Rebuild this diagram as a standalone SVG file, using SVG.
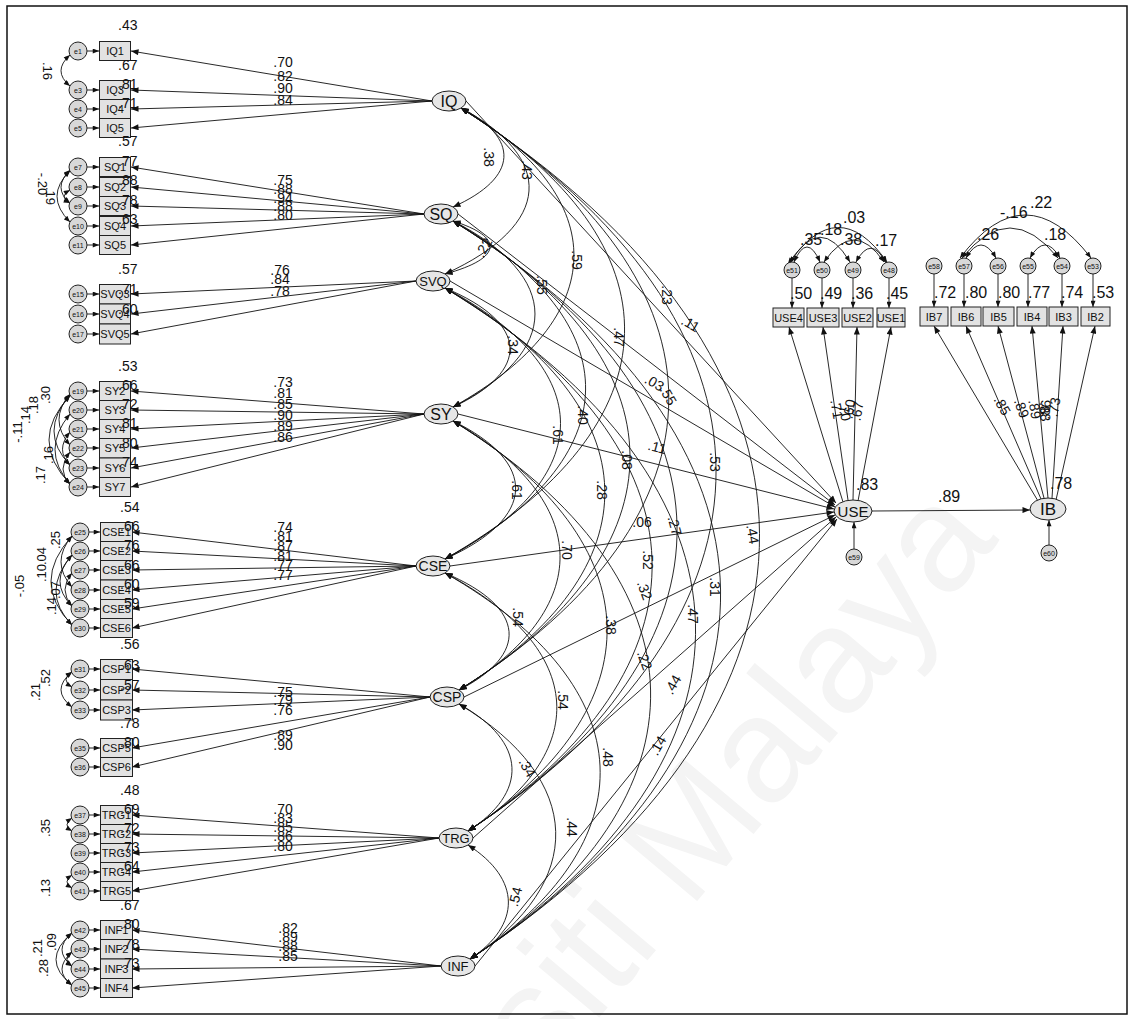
<svg xmlns="http://www.w3.org/2000/svg" width="1131" height="1019" viewBox="0 0 1131 1019">
<defs>
<marker id="ar" viewBox="0 0 10 8" refX="10" refY="4" markerWidth="9" markerHeight="6" orient="auto-start-reverse" markerUnits="userSpaceOnUse"><path d="M0,0L10,4L0,8z" fill="#111"/></marker>
<marker id="as" viewBox="0 0 10 8" refX="10" refY="4" markerWidth="7" markerHeight="5" orient="auto-start-reverse" markerUnits="userSpaceOnUse"><path d="M0,0L10,4L0,8z" fill="#111"/></marker>
</defs>
<style>
text{font-family:"Liberation Sans",Arial,sans-serif;fill:#111}
.b{fill:#e2e2e2;stroke:#222;stroke-width:1}
.c{fill:#d8d8d8;stroke:#222;stroke-width:1}
.l{fill:#e6e6e6;stroke:#222;stroke-width:1}
.bt{font-size:11px;text-anchor:middle}
.et{font-size:7px;text-anchor:middle}
.ft{font-size:15px;text-anchor:middle}
.v{font-size:14px}
.vm{font-size:14px;text-anchor:middle}
.vr{font-size:16px}
.ln{stroke:#111;stroke-width:0.9;fill:none}
.ar{marker-end:url(#ar)}
.as{marker-end:url(#as)}
.dd{marker-start:url(#ar);marker-end:url(#ar)}
.ds{marker-start:url(#as);marker-end:url(#as)}
</style>
<rect width="1131" height="1019" fill="#fff"/>
<text x="1000" y="540" transform="rotate(-50 1000 540)" style="font-size:150px;text-anchor:end;fill:#f4f4f4">Universiti Malaya</text>
<rect x="7" y="6" width="1120" height="1008" fill="none" stroke="#111" stroke-width="1.5"/>

<g id="connectors" class="ln">
<line x1="432" y1="101" x2="131" y2="51" class="ar"/><line x1="432" y1="101" x2="131" y2="90" class="ar"/><line x1="432" y1="101" x2="131" y2="109" class="ar"/><line x1="432" y1="101" x2="131" y2="128" class="ar"/>
<line x1="424" y1="214" x2="131" y2="167" class="ar"/><line x1="424" y1="214" x2="131" y2="187" class="ar"/><line x1="424" y1="214" x2="131" y2="206" class="ar"/><line x1="424" y1="214" x2="131" y2="226" class="ar"/><line x1="424" y1="214" x2="131" y2="245" class="ar"/>
<line x1="416" y1="281" x2="131" y2="294" class="ar"/><line x1="416" y1="281" x2="131" y2="314" class="ar"/><line x1="416" y1="281" x2="131" y2="334" class="ar"/>
<line x1="424" y1="414" x2="131" y2="391" class="ar"/><line x1="424" y1="414" x2="131" y2="410" class="ar"/><line x1="424" y1="414" x2="131" y2="429" class="ar"/><line x1="424" y1="414" x2="131" y2="448" class="ar"/><line x1="424" y1="414" x2="131" y2="468" class="ar"/><line x1="424" y1="414" x2="131" y2="487" class="ar"/>
<line x1="416" y1="566" x2="132" y2="532" class="ar"/><line x1="416" y1="566" x2="132" y2="551" class="ar"/><line x1="416" y1="566" x2="132" y2="570" class="ar"/><line x1="416" y1="566" x2="132" y2="590" class="ar"/><line x1="416" y1="566" x2="132" y2="609" class="ar"/><line x1="416" y1="566" x2="132" y2="628" class="ar"/>
<line x1="430" y1="697" x2="132" y2="669" class="ar"/><line x1="430" y1="697" x2="132" y2="690" class="ar"/><line x1="430" y1="697" x2="132" y2="710" class="ar"/><line x1="430" y1="697" x2="132" y2="748" class="ar"/><line x1="430" y1="697" x2="132" y2="767" class="ar"/>
<line x1="439" y1="838" x2="132" y2="815" class="ar"/><line x1="439" y1="838" x2="132" y2="834" class="ar"/><line x1="439" y1="838" x2="132" y2="853" class="ar"/><line x1="439" y1="838" x2="132" y2="872" class="ar"/><line x1="439" y1="838" x2="132" y2="891" class="ar"/>
<line x1="441" y1="966" x2="132" y2="930" class="ar"/><line x1="441" y1="966" x2="132" y2="949" class="ar"/><line x1="441" y1="966" x2="132" y2="969" class="ar"/><line x1="441" y1="966" x2="132" y2="988" class="ar"/>
<g class="as">
<line x1="87" y1="51" x2="99" y2="51"/><line x1="87" y1="90" x2="99" y2="90"/><line x1="87" y1="109" x2="99" y2="109"/><line x1="87" y1="128" x2="99" y2="128"/>
<line x1="87" y1="167" x2="99" y2="167"/><line x1="87" y1="187" x2="99" y2="187"/><line x1="87" y1="206" x2="99" y2="206"/><line x1="87" y1="226" x2="99" y2="226"/><line x1="87" y1="245" x2="99" y2="245"/>
<line x1="87" y1="294" x2="99" y2="294"/><line x1="87" y1="314" x2="99" y2="314"/><line x1="87" y1="334" x2="99" y2="334"/>
<line x1="87" y1="391" x2="99" y2="391"/><line x1="87" y1="410" x2="99" y2="410"/><line x1="87" y1="429" x2="99" y2="429"/><line x1="87" y1="448" x2="99" y2="448"/><line x1="87" y1="468" x2="99" y2="468"/><line x1="87" y1="487" x2="99" y2="487"/>
<line x1="89" y1="532" x2="100" y2="532"/><line x1="89" y1="551" x2="100" y2="551"/><line x1="89" y1="570" x2="100" y2="570"/><line x1="89" y1="590" x2="100" y2="590"/><line x1="89" y1="609" x2="100" y2="609"/><line x1="89" y1="628" x2="100" y2="628"/>
<line x1="89" y1="669" x2="100" y2="669"/><line x1="89" y1="690" x2="100" y2="690"/><line x1="89" y1="710" x2="100" y2="710"/><line x1="89" y1="748" x2="100" y2="748"/><line x1="89" y1="767" x2="100" y2="767"/>
<line x1="89" y1="815" x2="100" y2="815"/><line x1="89" y1="834" x2="100" y2="834"/><line x1="89" y1="853" x2="100" y2="853"/><line x1="89" y1="872" x2="100" y2="872"/><line x1="89" y1="891" x2="100" y2="891"/>
<line x1="89" y1="930" x2="100" y2="930"/><line x1="89" y1="949" x2="100" y2="949"/><line x1="89" y1="969" x2="100" y2="969"/><line x1="89" y1="988" x2="100" y2="988"/>
<line x1="792" y1="278" x2="792" y2="308"/><line x1="822" y1="278" x2="822" y2="308"/><line x1="853" y1="278" x2="853" y2="308"/><line x1="889" y1="278" x2="889" y2="308"/>
<line x1="934" y1="274" x2="934" y2="307"/><line x1="964" y1="274" x2="964" y2="307"/><line x1="998" y1="274" x2="998" y2="307"/><line x1="1028" y1="274" x2="1028" y2="307"/><line x1="1062" y1="274" x2="1062" y2="307"/><line x1="1093" y1="274" x2="1093" y2="307"/>
<line x1="854" y1="549" x2="854" y2="522"/><line x1="1049" y1="545" x2="1049" y2="520"/>
</g>
<g class="ds">
<path d="M70,55 Q52,71 70,86"/>
<path d="M70,171 Q44,196 70,222"/><path d="M70,170 Q52,188 70,203"/><path d="M70,190 Q58,197 70,203"/>
<path d="M70,394 Q48,420 70,445"/><path d="M70,395 Q38,432 70,465"/><path d="M70,414 Q40,450 70,484"/><path d="M70,396 Q28,440 70,484"/><path d="M70,432 Q55,450 70,465"/><path d="M70,452 Q56,470 70,484"/>
<path d="M72,536 Q50,562 72,587"/><path d="M72,536 Q30,582 72,625"/><path d="M72,555 Q48,582 72,606"/><path d="M72,555 Q40,592 72,625"/><path d="M72,573 Q58,590 72,606"/>
<path d="M72,672 Q50,690 72,707"/><path d="M72,672 Q60,680 72,687"/>
<path d="M72,818 Q62,825 72,831"/><path d="M72,875 Q62,882 72,888"/>
<path d="M72,933 Q52,950 72,966"/><path d="M72,933 Q40,960 72,985"/><path d="M72,952 Q52,970 72,985"/><path d="M72,952 Q62,960 72,966"/>
</g>
<g class="ds">
<path d="M794,262 Q807,232 820,262"/>
<path d="M790,263 Q820,212 850,262"/>
<path d="M788,264 Q838,192 887,262"/>
<path d="M824,262 Q854,218 884,262"/>
<path d="M856,262 Q871,234 886,263"/>
<path d="M966,258 Q981,232 996,258"/>
<path d="M1030,258 Q1045,232 1060,258"/>
<path d="M962,258 Q1010,198 1058,258"/>
<path d="M960,258 Q1025,172 1091,258"/>
</g>
<g class="dd">
<path d="M461,108 C519.5,137.7 519.5,177.3 453,207"/>
<path d="M461,108 C554.3,157.8 554.3,224.2 445,274"/>
<path d="M461,108 C612.9,197.7 612.9,317.3 453,407"/>
<path d="M461,108 C681.7,243.3 681.7,423.7 445,559"/>
<path d="M461,108 C738.4,282.6 738.4,515.4 459,690"/>
<path d="M461,108 C799.9,324.9 799.9,614.1 468,831"/>
<path d="M461,108 C857.5,363.3 857.5,703.7 470,959"/>
<path d="M453,221 C503.7,236.9 503.7,258.1 445,274"/>
<path d="M453,221 C562.3,276.8 562.3,351.2 453,407"/>
<path d="M453,221 C631.1,322.4 631.1,457.6 445,559"/>
<path d="M453,221 C688,361.7 688,549.3 459,690"/>
<path d="M453,221 C749.2,404 749.2,648 468,831"/>
<path d="M453,221 C806.9,442.4 806.9,737.6 470,959"/>
<path d="M445,288 C530.3,323.7 530.3,371.3 453,407"/>
<path d="M445,288 C599,369.3 599,477.7 445,559"/>
<path d="M445,288 C655.7,408.6 655.7,569.4 459,690"/>
<path d="M445,288 C717.2,450.9 717.2,668.1 468,831"/>
<path d="M445,288 C774.8,489.3 774.8,757.7 470,959"/>
<path d="M453,421 C537.8,462.4 537.8,517.6 445,559"/>
<path d="M453,421 C594.7,501.7 594.7,609.3 459,690"/>
<path d="M453,421 C655.9,544 655.9,708 468,831"/>
<path d="M453,421 C713.6,582.4 713.6,797.6 470,959"/>
<path d="M445,573 C528,608.1 528,654.9 459,690"/>
<path d="M445,573 C590,650.4 590,753.6 468,831"/>
<path d="M445,573 C647.5,688.8 647.5,843.2 470,959"/>
<path d="M459,704 C528.1,742.1 528.1,792.9 468,831"/>
<path d="M459,704 C586.1,780.5 586.1,882.5 470,959"/>
<path d="M468,845 C521.5,879.2 521.5,924.8 470,959"/>
</g>
<g class="ar">
<line x1="466" y1="101" x2="836" y2="503"/>
<line x1="458" y1="214" x2="835" y2="505"/>
<line x1="450" y1="281" x2="835" y2="507"/>
<line x1="458" y1="414" x2="834" y2="509"/>
<line x1="450" y1="566" x2="834" y2="512"/>
<line x1="464" y1="697" x2="835" y2="515"/>
<line x1="473" y1="838" x2="836" y2="517"/>
<line x1="475" y1="966" x2="837" y2="519"/>
<line x1="872" y1="511" x2="1030" y2="510"/>
<line x1="843" y1="502" x2="789" y2="327"/>
<line x1="848" y1="500" x2="823" y2="327"/>
<line x1="853" y1="500" x2="857" y2="327"/>
<line x1="858" y1="501" x2="891" y2="327"/>
<line x1="1038" y1="501" x2="934" y2="326"/>
<line x1="1041" y1="499" x2="966" y2="326"/>
<line x1="1044" y1="498" x2="998" y2="326"/>
<line x1="1048" y1="498" x2="1032" y2="326"/>
<line x1="1052" y1="498" x2="1063" y2="326"/>
<line x1="1056" y1="500" x2="1095" y2="326"/>
</g>
</g>

<g id="IQ"><ellipse class="l" cx="449" cy="101" rx="17" ry="10"/><text class="ft" x="449" y="107" style="font-size:16px">IQ</text></g>
<g id="SQ"><ellipse class="l" cx="441" cy="214" rx="17" ry="10"/><text class="ft" x="441" y="220" style="font-size:16px">SQ</text></g>
<g id="SVQ"><ellipse class="l" cx="433" cy="281" rx="17" ry="10"/><text class="ft" x="433" y="286" style="font-size:13px">SVQ</text></g>
<g id="SY"><ellipse class="l" cx="441" cy="414" rx="17" ry="10"/><text class="ft" x="441" y="420" style="font-size:16px">SY</text></g>
<g id="CSE"><ellipse class="l" cx="433" cy="566" rx="17" ry="10"/><text class="ft" x="433" y="571" style="font-size:14px">CSE</text></g>
<g id="CSP"><ellipse class="l" cx="447" cy="697" rx="17" ry="10"/><text class="ft" x="447" y="702" style="font-size:14px">CSP</text></g>
<g id="TRG"><ellipse class="l" cx="456" cy="838" rx="17" ry="10"/><text class="ft" x="456" y="843" style="font-size:13px">TRG</text></g>
<g id="INF"><ellipse class="l" cx="458" cy="966" rx="17" ry="10"/><text class="ft" x="458" y="971" style="font-size:13px">INF</text></g>
<g id="USE"><ellipse class="l" cx="853" cy="511" rx="19" ry="11"/><text class="ft" x="853" y="517" style="font-size:15px">USE</text></g>
<g id="IB"><ellipse class="l" cx="1048" cy="509" rx="18" ry="11"/><text class="ft" x="1048" y="515" style="font-size:17px">IB</text></g>
<g id="e59"><circle class="c" cx="854" cy="557" r="8"/><text class="et" x="854" y="559.5">e59</text></g>
<g id="e60"><circle class="c" cx="1049" cy="553" r="8"/><text class="et" x="1049" y="555.5">e60</text></g>

<g id="ind-IQ">
<rect class="b" x="99.5" y="41.5" width="31" height="19"/><text class="bt" x="115" y="55">IQ1</text><circle class="c" cx="78" cy="51" r="9"/><text class="et" x="78" y="53.5">e1</text>
<rect class="b" x="99.5" y="80.5" width="31" height="19"/><text class="bt" x="115" y="94">IQ3</text><circle class="c" cx="78" cy="90" r="9"/><text class="et" x="78" y="92.5">e3</text>
<rect class="b" x="99.5" y="99.5" width="31" height="19"/><text class="bt" x="115" y="113">IQ4</text><circle class="c" cx="78" cy="109" r="9"/><text class="et" x="78" y="111.5">e4</text>
<rect class="b" x="99.5" y="118.5" width="31" height="19"/><text class="bt" x="115" y="132">IQ5</text><circle class="c" cx="78" cy="128" r="9"/><text class="et" x="78" y="130.5">e5</text>
</g>
<g id="ind-SQ">
<rect class="b" x="99.5" y="157.5" width="31" height="19"/><text class="bt" x="115" y="171">SQ1</text><circle class="c" cx="78" cy="167" r="9"/><text class="et" x="78" y="169.5">e7</text>
<rect class="b" x="99.5" y="177.5" width="31" height="19"/><text class="bt" x="115" y="191">SQ2</text><circle class="c" cx="78" cy="187" r="9"/><text class="et" x="78" y="189.5">e8</text>
<rect class="b" x="99.5" y="196.5" width="31" height="19"/><text class="bt" x="115" y="210">SQ3</text><circle class="c" cx="78" cy="206" r="9"/><text class="et" x="78" y="208.5">e9</text>
<rect class="b" x="99.5" y="216.5" width="31" height="19"/><text class="bt" x="115" y="230">SQ4</text><circle class="c" cx="78" cy="226" r="9"/><text class="et" x="78" y="228.5">e10</text>
<rect class="b" x="99.5" y="235.5" width="31" height="19"/><text class="bt" x="115" y="249">SQ5</text><circle class="c" cx="78" cy="245" r="9"/><text class="et" x="78" y="247.5">e11</text>
</g>
<g id="ind-SVQ">
<rect class="b" x="99.5" y="284.5" width="31" height="19.5"/><text class="bt" x="115" y="298">SVQ3</text><circle class="c" cx="78" cy="294" r="9"/><text class="et" x="78" y="296.5">e15</text>
<rect class="b" x="99.5" y="304" width="31" height="20"/><text class="bt" x="115" y="318">SVQ4</text><circle class="c" cx="78" cy="314" r="9"/><text class="et" x="78" y="316.5">e16</text>
<rect class="b" x="99.5" y="324" width="31" height="20"/><text class="bt" x="115" y="338">SVQ5</text><circle class="c" cx="78" cy="334" r="9"/><text class="et" x="78" y="336.5">e17</text>
</g>
<g id="ind-SY">
<rect class="b" x="99.5" y="381.5" width="31" height="19"/><text class="bt" x="115" y="395">SY2</text><circle class="c" cx="78" cy="391" r="9"/><text class="et" x="78" y="393.5">e19</text>
<rect class="b" x="99.5" y="400.5" width="31" height="19"/><text class="bt" x="115" y="414">SY3</text><circle class="c" cx="78" cy="410" r="9"/><text class="et" x="78" y="412.5">e20</text>
<rect class="b" x="99.5" y="419.5" width="31" height="19"/><text class="bt" x="115" y="433">SY4</text><circle class="c" cx="78" cy="429" r="9"/><text class="et" x="78" y="431.5">e21</text>
<rect class="b" x="99.5" y="438.5" width="31" height="19.5"/><text class="bt" x="115" y="452">SY5</text><circle class="c" cx="78" cy="448" r="9"/><text class="et" x="78" y="450.5">e22</text>
<rect class="b" x="99.5" y="458" width="31" height="19.5"/><text class="bt" x="115" y="472">SY6</text><circle class="c" cx="78" cy="468" r="9"/><text class="et" x="78" y="470.5">e23</text>
<rect class="b" x="99.5" y="477.5" width="31" height="19"/><text class="bt" x="115" y="491">SY7</text><circle class="c" cx="78" cy="487" r="9"/><text class="et" x="78" y="489.5">e24</text>
</g>
<g id="ind-CSE">
<rect class="b" x="100.5" y="522.5" width="32" height="19"/><text class="bt" x="116.5" y="536">CSE1</text><circle class="c" cx="80" cy="532" r="9"/><text class="et" x="80" y="534.5">e25</text>
<rect class="b" x="100.5" y="541.5" width="32" height="19"/><text class="bt" x="116.5" y="555">CSE2</text><circle class="c" cx="80" cy="551" r="9"/><text class="et" x="80" y="553.5">e26</text>
<rect class="b" x="100.5" y="560.5" width="32" height="19.5"/><text class="bt" x="116.5" y="574">CSE3</text><circle class="c" cx="80" cy="570" r="9"/><text class="et" x="80" y="572.5">e27</text>
<rect class="b" x="100.5" y="580" width="32" height="19.5"/><text class="bt" x="116.5" y="594">CSE4</text><circle class="c" cx="80" cy="590" r="9"/><text class="et" x="80" y="592.5">e28</text>
<rect class="b" x="100.5" y="599.5" width="32" height="19"/><text class="bt" x="116.5" y="613">CSE5</text><circle class="c" cx="80" cy="609" r="9"/><text class="et" x="80" y="611.5">e29</text>
<rect class="b" x="100.5" y="618.5" width="32" height="19"/><text class="bt" x="116.5" y="632">CSE6</text><circle class="c" cx="80" cy="628" r="9"/><text class="et" x="80" y="630.5">e30</text>
</g>
<g id="ind-CSP">
<rect class="b" x="100.5" y="659.5" width="32" height="20"/><text class="bt" x="116.5" y="673">CSP1</text><circle class="c" cx="80" cy="669" r="9"/><text class="et" x="80" y="671.5">e31</text>
<rect class="b" x="100.5" y="679.5" width="32" height="20.5"/><text class="bt" x="116.5" y="694">CSP2</text><circle class="c" cx="80" cy="690" r="9"/><text class="et" x="80" y="692.5">e32</text>
<rect class="b" x="100.5" y="700" width="32" height="20"/><text class="bt" x="116.5" y="714">CSP3</text><circle class="c" cx="80" cy="710" r="9"/><text class="et" x="80" y="712.5">e33</text>
<rect class="b" x="100.5" y="738.5" width="32" height="19"/><text class="bt" x="116.5" y="752">CSP5</text><circle class="c" cx="80" cy="748" r="9"/><text class="et" x="80" y="750.5">e35</text>
<rect class="b" x="100.5" y="757.5" width="32" height="19"/><text class="bt" x="116.5" y="771">CSP6</text><circle class="c" cx="80" cy="767" r="9"/><text class="et" x="80" y="769.5">e36</text>
</g>
<g id="ind-TRG">
<rect class="b" x="100.5" y="805.5" width="32" height="19"/><text class="bt" x="116.5" y="819">TRG1</text><circle class="c" cx="80" cy="815" r="9"/><text class="et" x="80" y="817.5">e37</text>
<rect class="b" x="100.5" y="824.5" width="32" height="19"/><text class="bt" x="116.5" y="838">TRG2</text><circle class="c" cx="80" cy="834" r="9"/><text class="et" x="80" y="836.5">e38</text>
<rect class="b" x="100.5" y="843.5" width="32" height="19"/><text class="bt" x="116.5" y="857">TRG3</text><circle class="c" cx="80" cy="853" r="9"/><text class="et" x="80" y="855.5">e39</text>
<rect class="b" x="100.5" y="862.5" width="32" height="19"/><text class="bt" x="116.5" y="876">TRG4</text><circle class="c" cx="80" cy="872" r="9"/><text class="et" x="80" y="874.5">e40</text>
<rect class="b" x="100.5" y="881.5" width="32" height="19"/><text class="bt" x="116.5" y="895">TRG5</text><circle class="c" cx="80" cy="891" r="9"/><text class="et" x="80" y="893.5">e41</text>
</g>
<g id="ind-INF">
<rect class="b" x="100.5" y="920.5" width="32" height="19"/><text class="bt" x="116.5" y="934">INF1</text><circle class="c" cx="80" cy="930" r="9"/><text class="et" x="80" y="932.5">e42</text>
<rect class="b" x="100.5" y="939.5" width="32" height="19.5"/><text class="bt" x="116.5" y="953">INF2</text><circle class="c" cx="80" cy="949" r="9"/><text class="et" x="80" y="951.5">e43</text>
<rect class="b" x="100.5" y="959" width="32" height="19.5"/><text class="bt" x="116.5" y="973">INF3</text><circle class="c" cx="80" cy="969" r="9"/><text class="et" x="80" y="971.5">e44</text>
<rect class="b" x="100.5" y="978.5" width="32" height="19"/><text class="bt" x="116.5" y="992">INF4</text><circle class="c" cx="80" cy="988" r="9"/><text class="et" x="80" y="990.5">e45</text>
</g>

<g id="ind-USE">
<rect class="b" x="773" y="308" width="31" height="19"/><text class="bt" x="788.5" y="322">USE4</text><circle class="c" cx="792" cy="270" r="8"/><text class="et" x="792" y="272.5">e51</text>
<rect class="b" x="807" y="308" width="32" height="19"/><text class="bt" x="823" y="322">USE3</text><circle class="c" cx="822" cy="270" r="8"/><text class="et" x="822" y="272.5">e50</text>
<rect class="b" x="842" y="308" width="31" height="19"/><text class="bt" x="857.5" y="322">USE2</text><circle class="c" cx="853" cy="270" r="8"/><text class="et" x="853" y="272.5">e49</text>
<rect class="b" x="877" y="308" width="28" height="19"/><text class="bt" x="891" y="322">USE1</text><circle class="c" cx="889" cy="270" r="8"/><text class="et" x="889" y="272.5">e48</text>
</g>
<g id="ind-IB">
<rect class="b" x="920" y="307" width="28" height="19"/><text class="bt" x="934" y="321">IB7</text><circle class="c" cx="934" cy="266" r="8"/><text class="et" x="934" y="268.5">e58</text>
<rect class="b" x="951" y="307" width="30" height="19"/><text class="bt" x="966" y="321">IB6</text><circle class="c" cx="964" cy="266" r="8"/><text class="et" x="964" y="268.5">e57</text>
<rect class="b" x="983" y="307" width="31" height="19"/><text class="bt" x="998.5" y="321">IB5</text><circle class="c" cx="998" cy="266" r="8"/><text class="et" x="998" y="268.5">e56</text>
<rect class="b" x="1017" y="307" width="30" height="19"/><text class="bt" x="1032" y="321">IB4</text><circle class="c" cx="1028" cy="266" r="8"/><text class="et" x="1028" y="268.5">e55</text>
<rect class="b" x="1049" y="307" width="29" height="19"/><text class="bt" x="1063.5" y="321">IB3</text><circle class="c" cx="1062" cy="266" r="8"/><text class="et" x="1062" y="268.5">e54</text>
<rect class="b" x="1081" y="307" width="29" height="19"/><text class="bt" x="1095.5" y="321">IB2</text><circle class="c" cx="1093" cy="266" r="8"/><text class="et" x="1093" y="268.5">e53</text>
</g>

<g id="labels">
<g class="v">
<text x="118" y="30">.43</text><text x="118" y="70">.67</text><text x="118" y="89">.81</text><text x="118" y="108">.71</text>
<text x="118" y="146">.57</text><text x="118" y="166">.77</text><text x="118" y="185">.88</text><text x="118" y="205">.78</text><text x="118" y="224">.63</text>
<text x="118" y="274">.57</text><text x="118" y="294">.71</text><text x="118" y="314">.60</text>
<text x="118" y="371">.53</text><text x="118" y="390">.66</text><text x="118" y="409">.72</text><text x="118" y="428">.81</text><text x="118" y="448">.80</text><text x="118" y="467">.74</text>
<text x="120" y="512">.54</text><text x="120" y="531">.66</text><text x="120" y="550">.76</text><text x="120" y="570">.66</text><text x="120" y="589">.60</text><text x="120" y="608">.59</text>
<text x="120" y="649">.56</text><text x="120" y="670">.63</text><text x="120" y="690">.57</text><text x="120" y="728">.78</text><text x="120" y="747">.80</text>
<text x="120" y="795">.48</text><text x="120" y="814">.69</text><text x="120" y="833">.72</text><text x="120" y="852">.73</text><text x="120" y="871">.64</text>
<text x="120" y="910">.67</text><text x="120" y="929">.80</text><text x="120" y="949">.78</text><text x="120" y="968">.73</text>
</g>
<g class="vm">
<text x="283" y="67">.70</text><text x="283" y="81">.82</text><text x="283" y="93">.90</text><text x="283" y="105">.84</text>
<text x="283" y="185">.75</text><text x="283" y="194">.88</text><text x="283" y="203">.94</text><text x="283" y="211">.88</text><text x="283" y="220">.80</text>
<text x="280" y="275">.76</text><text x="280" y="284">.84</text><text x="280" y="296">.78</text>
<text x="283" y="387">.73</text><text x="283" y="398">.81</text><text x="283" y="409">.85</text><text x="283" y="420">.90</text><text x="283" y="431">.89</text><text x="283" y="442">.86</text>
<text x="283" y="532">.74</text><text x="283" y="541">.81</text><text x="283" y="551">.87</text><text x="283" y="561">.81</text><text x="283" y="570">.77</text><text x="283" y="580">.77</text>
<text x="283" y="697">.75</text><text x="283" y="705">.79</text><text x="283" y="715">.76</text><text x="283" y="740">.89</text><text x="283" y="750">.90</text>
<text x="283" y="814">.70</text><text x="283" y="823">.83</text><text x="283" y="832">.85</text><text x="283" y="841">.86</text><text x="283" y="851">.80</text>
<text x="288" y="933">.82</text><text x="288" y="942">.89</text><text x="288" y="951">.88</text><text x="288" y="961">.85</text>
</g>
<g class="vm" style="font-size:13px">
<text transform="translate(43,71) rotate(90)">.16</text>
<text transform="translate(38,184) rotate(90)">-.20</text>
<text transform="translate(46,196) rotate(90)">.19</text>
<text transform="translate(50,395) rotate(-90)">.30</text>
<text transform="translate(38,405) rotate(-90)">.18</text>
<text transform="translate(30,415) rotate(-90)">.14</text>
<text transform="translate(22,432) rotate(-90)">-.11</text>
<text transform="translate(53,455) rotate(-90)">.16</text>
<text transform="translate(45,475) rotate(-90)">.17</text>
<text transform="translate(60,540) rotate(-90)">.25</text>
<text transform="translate(46,556) rotate(-90)">.04</text>
<text transform="translate(46,573) rotate(-90)">.10</text>
<text transform="translate(60,590) rotate(-90)">.07</text>
<text transform="translate(24,586) rotate(-90)">-.05</text>
<text transform="translate(56,606) rotate(-90)">.14</text>
<text transform="translate(50,678) rotate(-90)">.52</text>
<text transform="translate(40,692) rotate(-90)">.21</text>
<text transform="translate(50,828) rotate(-90)">.35</text>
<text transform="translate(50,888) rotate(-90)">.13</text>
<text transform="translate(56,942) rotate(-90)">.09</text>
<text transform="translate(42,948) rotate(-90)">.21</text>
<text transform="translate(48,968) rotate(-90)">.28</text>
</g>
<g class="vm">
<text transform="translate(484,157) rotate(90)">.38</text>
<text transform="translate(522,170) rotate(90)">.43</text>
<text transform="translate(488,250) rotate(-60)">.22</text>
<text transform="translate(572,260) rotate(90)">.59</text>
<text transform="translate(662,295) rotate(90)">.23</text>
<text transform="translate(537,285) rotate(90)">.55</text>
<text transform="translate(508,345) rotate(90)">.34</text>
<text transform="translate(614,337) rotate(90)">.47</text>
<text transform="translate(688,328) rotate(30)">.11</text>
<text transform="translate(652,387) rotate(30)">.03</text>
<text transform="translate(664,398) rotate(60)">.55</text>
<text transform="translate(578,415) rotate(90)">.40</text>
<text transform="translate(553,435) rotate(90)">.61</text>
<text transform="translate(656,452) rotate(15)">.11</text>
<text transform="translate(622,460) rotate(90)">.08</text>
<text transform="translate(710,462) rotate(90)">.53</text>
<text transform="translate(512,490) rotate(90)">.61</text>
<text transform="translate(597,490) rotate(90)">.28</text>
<text x="642" y="527">.06</text>
<text transform="translate(670,527) rotate(75)">.27</text>
<text transform="translate(748,535) rotate(80)">.44</text>
<text transform="translate(562,550) rotate(90)">.70</text>
<text transform="translate(643,560) rotate(90)">.52</text>
<text transform="translate(640,592) rotate(70)">.32</text>
<text transform="translate(710,587) rotate(90)">.31</text>
<text transform="translate(513,617) rotate(90)">.54</text>
<text transform="translate(606,625) rotate(90)">.38</text>
<text transform="translate(688,614) rotate(90)">.47</text>
<text transform="translate(640,662) rotate(70)">.22</text>
<text transform="translate(677,687) rotate(-60)">.44</text>
<text transform="translate(558,700) rotate(90)">.54</text>
<text transform="translate(662,748) rotate(-60)">.14</text>
<text transform="translate(603,757) rotate(90)">.48</text>
<text transform="translate(523,770) rotate(60)">.34</text>
<text transform="translate(567,827) rotate(90)">.44</text>
<text transform="translate(520,898) rotate(-75)">.54</text>
</g>
<g class="vr">
<text x="790" y="299">.50</text><text x="820" y="299">.49</text><text x="851" y="299">.36</text><text x="886" y="299">.45</text>
<text x="934" y="298">.72</text><text x="965" y="298">.80</text><text x="998" y="298">.80</text><text x="1028" y="298">.77</text><text x="1061" y="298">.74</text><text x="1092" y="298">.53</text>
<text x="800" y="245">.35</text><text x="820" y="235">.18</text><text x="843" y="223">.03</text><text x="840" y="245">.38</text><text x="875" y="246">.17</text>
<text x="977" y="240">.26</text><text x="1044" y="240">.18</text><text x="1000" y="218">-.16</text><text x="1030" y="208">.22</text>
<text x="938" y="502">.89</text>
<text x="856" y="490">.83</text>
<text x="1050" y="489">.78</text>
</g>
<g class="vm">
<text transform="translate(832,410) rotate(80)">.71</text>
<text transform="translate(840,412) rotate(80)">.70</text>
<text transform="translate(854,410) rotate(-80)">.60</text>
<text transform="translate(862,412) rotate(-80)">.67</text>
<text transform="translate(998,408) rotate(60)">.85</text>
<text transform="translate(1017,410) rotate(70)">.89</text>
<text transform="translate(1030,410) rotate(80)">.89</text>
<text transform="translate(1040,412) rotate(85)">.88</text>
<text transform="translate(1050,410) rotate(-85)">.86</text>
<text transform="translate(1059,408) rotate(-80)">.73</text>
</g>
</g>
</svg>
